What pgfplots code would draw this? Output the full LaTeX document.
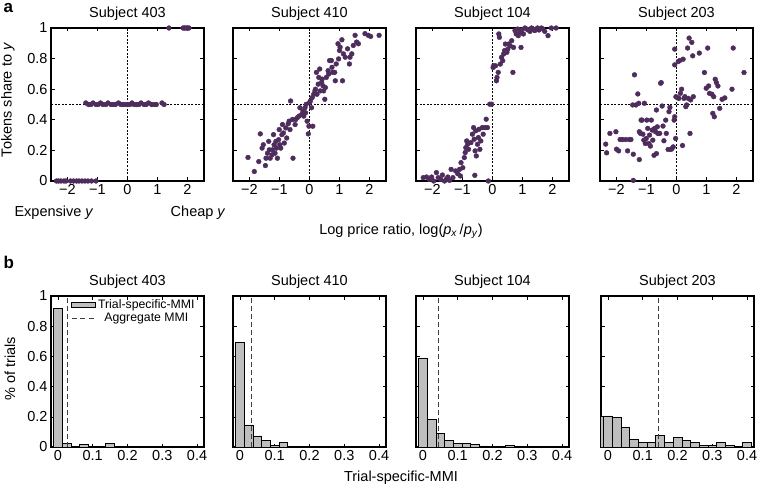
\documentclass[border=0pt]{standalone}
\usepackage{fontspec}
\setmainfont{Liberation Sans}
\usepackage{pgfplots}
\pgfplotsset{compat=1.18}
\definecolor{dot}{RGB}{78,44,92}
\definecolor{barfill}{RGB}{190,190,190}
\definecolor{dashgray}{RGB}{60,60,60}
\pgfplotsset{
  base/.style={scale only axis, width=153pt, anchor=north west,
    axis line style={line width=1.4pt}, tick align=inside, major tick length=3.5pt,
    every tick/.style={black, line width=0.6pt},
    tick label style={font=\fontsize{14.5}{16}\selectfont},
    title style={font=\fontsize{14.5}{16}\selectfont, yshift=-2pt},
    ymin=0, ymax=1, ytick={0,0.2,0.4,0.6,0.8,1}, yticklabels={}},
  sc/.style={base, height=153pt, xmin=-2.55, xmax=2.55, xtick={-2,-1,0,1,2},
    xticklabels={−2,−1,0,1,2}, clip=false},
  hi/.style={base, height=151pt, xmin=-0.02, xmax=0.42, xtick={0,0.1,0.2,0.3,0.4},
    xticklabels={0,0.1,0.2,0.3,0.4}},
  dots/.style={only marks, mark=*, mark size=2.4pt, mark options={draw=dot, fill=dot}},
  guide/.style={black, line width=0.6pt, dash pattern=on 2pt off 1.5pt},
  bars/.style={ybar, bar width=0.025, fill=barfill, draw=black, line width=0.7pt},
  agg/.style={dashgray, line width=0.8pt, dash pattern=on 5pt off 3pt},
}
\begin{document}
\begin{tikzpicture}
\path[use as bounding box] (0,0) rectangle (759pt,-489pt);
% ---------- panel a ----------
\begin{axis}[sc, at={(51pt,-28pt)}, title={Subject 403}, yticklabels={0,0.2,0.4,0.6,0.8,1}]
\addplot[guide] coordinates {(0,0) (0,1)};
\addplot[guide] coordinates {(-2.55,0.5) (2.55,0.5)};
\addplot[dots] coordinates {
(-2.37,0) (-2.3,0) (-2.22,0) (-2.12,0) (-2.05,0) (-1.9,0) (-1.8,0) (-1.7,0) (-1.62,0) (-1.52,0) (-1.42,0) (-1.32,0) (-1.2,0) (-1.05,0)
(-1.39,0.51) (-1.3,0.5) (-1.22,0.5) (-1.15,0.51) (-1.05,0.5) (-0.98,0.5) (-0.9,0.51) (-0.82,0.5) (-0.72,0.5) (-0.65,0.51) (-0.55,0.5) (-0.48,0.5) (-0.4,0.5) (-0.3,0.51) (-0.22,0.5) (-0.15,0.5) (-0.08,0.5) (0,0.5) (0.08,0.5) (0.15,0.51) (0.22,0.5) (0.3,0.5) (0.38,0.5) (0.45,0.51) (0.55,0.5) (0.62,0.5) (0.7,0.51) (0.8,0.5) (0.88,0.5) (0.96,0.5) (1.15,0.51) (1.22,0.5)
(1.38,1) (1.85,1) (1.9,1) (1.95,1) (2.0,1) (2.05,1)};
\end{axis}
\begin{axis}[sc, at={(233pt,-28pt)}, title={Subject 410}]
\addplot[guide] coordinates {(0,0) (0,1)};
\addplot[guide] coordinates {(-2.55,0.5) (2.55,0.5)};
\addplot[dots] coordinates {
(-2.05,0.154) (-1.84,0.062) (-1.69,0.127) (-1.64,0.308) (-1.58,0.215) (-1.54,0.237) (-1.47,0.101) (-1.45,0.149) (-1.40,0.182) (-1.36,0.259)
(-1.34,0.204) (-1.31,0.149) (-1.25,0.171) (-1.23,0.204) (-1.20,0.303) (-1.18,0.237) (-1.15,0.182) (-1.12,0.259) (-1.10,0.215) (-1.07,0.149)
(-1.03,0.270) (-1.01,0.336) (-0.99,0.237) (-0.96,0.215) (-0.92,0.303) (-0.90,0.369) (-0.87,0.314) (-0.84,0.248) (-0.79,0.347) (-0.76,0.281)
(-0.71,0.374) (-0.68,0.391) (-0.65,0.336) (-0.63,0.523) (-0.57,0.402) (-0.55,0.149) (-0.48,0.369) (-0.46,0.402) (-0.41,0.413) (-0.35,0.424)
(-0.32,0.479) (-0.26,0.435) (-0.22,0.457) (-0.19,0.424) (-0.15,0.479) (-0.13,0.446) (-0.11,0.501) (-0.08,0.391) (-0.04,0.308) (-0.02,0.358)
(0.00,0.512) (0.03,0.523) (0.07,0.479) (0.09,0.545) (0.11,0.358) (0.14,0.567) (0.18,0.589) (0.20,0.600) (0.23,0.710) (0.25,0.567)
(0.29,0.633) (0.31,0.677) (0.34,0.732) (0.36,0.589) (0.40,0.644) (0.42,0.666) (0.45,0.622) (0.47,0.589) (0.51,0.534) (0.53,0.611)
(0.56,0.677) (0.62,0.721) (0.64,0.699) (0.67,0.787) (0.73,0.787) (0.75,0.743) (0.78,0.710) (0.84,0.710) (0.86,0.655) (0.89,0.765)
(0.95,0.897) (0.97,0.798) (1.00,0.853) (1.02,0.875) (1.08,0.923) (1.10,0.655) (1.13,0.831) (1.19,0.809) (1.27,0.864) (1.33,0.765)
(1.35,0.809) (1.41,0.831) (1.46,0.886) (1.52,0.952) (1.57,0.908) (1.63,0.897) (1.85,0.963) (1.96,0.952) (2.04,0.945) (2.32,0.952)};
\end{axis}
\begin{axis}[sc, at={(416pt,-28pt)}, title={Subject 104}]
\addplot[guide] coordinates {(0,0) (0,1)};
\addplot[guide] coordinates {(-2.55,0.5) (2.55,0.5)};
\addplot[dots] coordinates {
(-2.31,0.022) (-2.20,0.026) (-2.11,0.011) (-2.03,0.026) (-1.96,0.0) (-1.87,0.055) (-1.81,0.022) (-1.73,0.011) (-1.67,0.039) (-1.60,0.0)
(-1.54,0.011) (-1.49,0.026) (-1.43,0.004) (-1.38,0.076) (-1.32,0.022) (-1.23,0.066) (-1.16,0.048) (-1.10,0.076) (-1.07,0.033) (-1.05,0.120)
(-0.99,0.087) (-0.94,0.153) (-0.91,0.186) (-0.89,0.218) (-0.86,0.262) (-0.83,0.240) (-0.80,0.207) (-0.72,0.251) (-0.67,0.306) (-0.63,0.349)
(-0.61,0.273) (-0.59,0.037) (-0.58,0.197) (-0.56,0.328) (-0.54,0.164) (-0.50,0.240) (-0.47,0.284) (-0.45,0.338) (-0.42,0.207) (-0.39,0.262)
(-0.34,0.349) (-0.31,0.306) (-0.25,0.349) (-0.21,0.404) (-0.17,0.349) (-0.14,0.0) (-0.09,0.502) (-0.03,0.502)
(0.02,0.742) (0.04,0.753) (0.10,0.753) (0.13,0.655) (0.15,0.677) (0.19,0.710) (0.21,0.961) (0.23,0.939) (0.26,0.764) (0.30,0.808)
(0.34,0.786) (0.37,0.830) (0.40,0.852) (0.43,0.895) (0.48,0.841) (0.51,0.862) (0.54,0.895) (0.59,0.884) (0.64,0.917) (0.68,0.710)
(0.70,0.873) (0.75,0.983) (0.79,0.961) (0.84,0.993) (0.86,0.950) (0.92,0.972) (0.95,0.873) (0.97,0.987) (1.03,0.961) (1.08,1.0)
(1.14,0.993) (1.19,0.987) (1.25,0.978) (1.30,1.0) (1.36,0.993) (1.41,0.983) (1.50,1.0) (1.55,0.987) (1.63,1.0) (1.68,0.993)
(1.74,0.978) (1.85,0.950) (1.96,1.0) (2.12,1.0)};
\end{axis}
\begin{axis}[sc, at={(600pt,-28pt)}, title={Subject 203}]
\addplot[guide] coordinates {(0,0) (0,1)};
\addplot[guide] coordinates {(-2.55,0.5) (2.55,0.5)};
\addplot[dots] coordinates {
(-2.36,0.241) (-2.33,0.184) (-2.22,0.311) (-2.02,0.322) (-2.00,0.208) (-1.93,0.197) (-1.88,0.271) (-1.80,0.271) (-1.69,0.271) (-1.63,0.197)
(-1.57,0.271) (-1.52,0.271) (-1.46,0.497) (-1.44,0.175) (-1.44,0.004) (-1.40,0.694) (-1.35,0.497) (-1.29,0.569) (-1.26,0.508) (-1.24,0.140)
(-1.24,0.322) (-1.20,0.311) (-1.18,0.398) (-1.15,0.398) (-1.12,0.306) (-1.09,0.267) (-1.07,0.508) (-1.04,0.245) (-1.01,0.278) (-0.99,0.398)
(-0.96,0.344) (-0.92,0.245) (-0.90,0.300) (-0.87,0.228) (-0.84,0.398) (-0.81,0.333) (-0.79,0.267) (-0.75,0.168) (-0.73,0.344) (-0.70,0.322)
(-0.67,0.464) (-0.67,0.179) (-0.64,0.354) (-0.62,0.311) (-0.56,0.311) (-0.53,0.639) (-0.51,0.643) (-0.48,0.490) (-0.45,0.359) (-0.42,0.263)
(-0.36,0.398) (-0.34,0.311) (-0.28,0.206) (-0.25,0.453) (-0.22,0.481) (-0.19,0.206) (-0.15,0.212) (-0.11,0.223) (-0.08,0.398) (-0.06,0.862)
(-0.06,0.759) (-0.06,0.420) (-0.03,0.278) (-0.02,0.551) (0.03,0.545) (0.06,0.781) (0.08,0.540) (0.11,0.788) (0.13,0.573) (0.17,0.600)
(0.20,0.232) (0.22,0.796) (0.25,0.540) (0.28,0.551) (0.31,0.486) (0.34,0.497) (0.37,0.869) (0.39,0.540) (0.42,0.934) (0.45,0.311)
(0.47,0.530) (0.51,0.906) (0.54,0.818) (0.56,0.551) (0.76,0.836) (0.93,0.709) (0.99,0.606) (1.04,0.869) (1.07,0.621) (1.10,0.573)
(1.18,0.567) (1.21,0.442) (1.24,0.551) (1.26,0.420) (1.29,0.665) (1.33,0.643) (1.38,0.621) (1.44,0.475) (1.52,0.534) (1.61,0.543)
(1.85,0.600) (1.89,0.869) (2.25,0.709)};
\end{axis}
% ---------- panel b ----------
\begin{axis}[hi, at={(51pt,-296pt)}, title={Subject 403}, yticklabels={0,0.2,0.4,0.6,0.8,1},
  legend style={draw=none, fill=none, at={(0.125,0.995)}, anchor=north west,
    font=\fontsize{12.3}{14}\selectfont, inner sep=1pt, row sep=-1pt,
    /tikz/every odd column/.append style={column sep=0pt}}]
\addplot[bars, legend image code/.code={\draw[fill=barfill, draw=black, line width=0.7pt] (0pt,-2.6pt) rectangle (24pt,2.6pt);}]
 coordinates {(0,0.92) (0.025,0.024) (0.075,0.016) (0.15,0.025)};
\addlegendentry{Trial-specific-MMI}
\addplot[agg, legend image code/.code={\draw[dashgray, line width=0.8pt, dash pattern=on 5pt off 3.5pt] (0pt,0pt) -- (22pt,0pt);}] coordinates {(0.026,0) (0.026,1)};
\addlegendentry{Aggregate MMI}
\end{axis}
\begin{axis}[hi, at={(233pt,-296pt)}, title={Subject 410}]
\addplot[bars] coordinates {(0,0.69) (0.025,0.146) (0.05,0.073) (0.075,0.044) (0.1,0.011) (0.125,0.029)};
\addplot[agg] coordinates {(0.033,0) (0.033,1)};
\end{axis}
\begin{axis}[hi, at={(416pt,-296pt)}, title={Subject 104}]
\addplot[bars] coordinates {(0,0.59) (0.025,0.183) (0.05,0.088) (0.075,0.044) (0.1,0.024) (0.125,0.024) (0.15,0.015) (0.175,0.007) (0.2,0.004) (0.225,0.004) (0.25,0.008) (0.275,0.004)};
\addplot[agg] coordinates {(0.045,0) (0.045,1)};
\end{axis}
\begin{axis}[hi, at={(601pt,-296pt)}, title={Subject 203}]
\addplot[bars] coordinates {(-0.025,0.206) (0,0.206) (0.025,0.195) (0.05,0.131) (0.075,0.053) (0.1,0.033) (0.125,0.033) (0.15,0.075) (0.175,0.029) (0.2,0.062) (0.225,0.044) (0.25,0.033) (0.275,0.008) (0.3,0.008) (0.325,0.029) (0.35,0.008) (0.4,0.029)};
\addplot[agg] coordinates {(0.145,0) (0.145,1)};
\end{axis}
% ---------- labels ----------
\node[anchor=west, font=\bfseries\fontsize{17}{19}\selectfont] at (0pt,-8pt) {a};
\node[anchor=west, font=\bfseries\fontsize{17}{19}\selectfont] at (0pt,-262pt) {b};
\node[rotate=90, font=\fontsize{14.5}{16}\selectfont] at (8pt,-100pt) {Tokens share to \textit{y}};
\node[rotate=90, font=\fontsize{14.5}{16}\selectfont] at (10pt,-369pt) {\% of trials};
\node[anchor=west, font=\fontsize{14.5}{16}\selectfont] at (11pt,-213pt) {Expensive \textit{y}};
\node[anchor=east, font=\fontsize{14.5}{16}\selectfont] at (229pt,-213pt) {Cheap \textit{y}};
\node[font=\fontsize{14.5}{16}\selectfont] at (401pt,-231pt) {Log price ratio, log(\textit{p}\textsubscript{\textit{x}}\,/\textit{p}\textsubscript{\textit{y}})};
\node[font=\fontsize{14.5}{16}\selectfont] at (401pt,-478pt) {Trial-specific-MMI};
\end{tikzpicture}
\end{document}
